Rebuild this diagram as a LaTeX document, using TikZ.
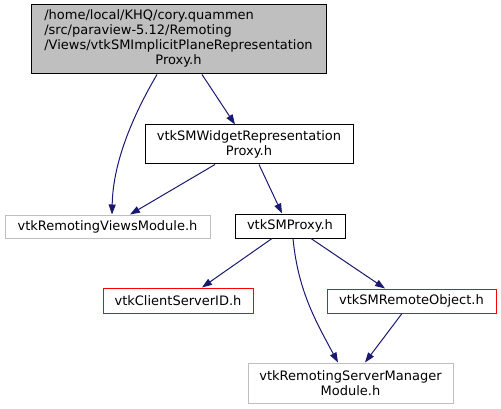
\documentclass[tikz,border=0pt]{standalone}
\usepackage{fontspec}
\setmainfont{DejaVu Sans}
\usetikzlibrary{arrows.meta}

\definecolor{depblue}{HTML}{191970}
\definecolor{extgray}{HTML}{BFBFBF}

\begin{document}
\begin{tikzpicture}[x=1pt,y=-1pt,>={Triangle[length=10pt,width=7pt]},
  hdr/.style={draw,line width=1pt,inner sep=0pt,font=\fontsize{13}{15}\selectfont},
  current/.style={hdr,fill=extgray},
  documented/.style={hdr},
  external/.style={hdr,draw=extgray},
  truncated/.style={hdr,draw=red},
  dep/.style={->,draw=depblue,line width=1pt}]
\useasboundingbox (0,0) rectangle (501,409);
\node[current, minimum width=295pt, minimum height=69pt] (implicit) at (178.5,39.5)
  {\begin{tabular}{@{}l@{}}/home/local/KHQ/cory.quammen\\/src/paraview-5.12/Remoting\\/Views/vtkSMImplicitPlaneRepresentation\\\multicolumn{1}{@{}c@{}}{Proxy.h}\end{tabular}};
\node[documented, minimum width=208pt, minimum height=39pt, align=center] (widget) at (249,144.5)
  {vtkSMWidgetRepresentation\\Proxy.h};
\node[external, minimum width=205pt, minimum height=23pt] (views) at (107.5,226.5) {vtkRemotingViewsModule.h};
\node[documented, minimum width=110pt, minimum height=24pt] (proxy) at (290,226) {vtkSMProxy.h};
\node[truncated, minimum width=150pt, minimum height=25pt] (csid) at (178,300.5) {vtkClientServerID.h};
\node[truncated, minimum width=169pt, minimum height=24pt] (remote) at (411.5,301) {vtkSMRemoteObject.h};
\node[external, minimum width=205pt, minimum height=40pt, align=center] (svrmod) at (350.5,383)
  {vtkRemotingServerManager\\Module.h};
\draw[dep] ([xshift=-21.5pt]implicit.south) .. controls (135,112) and (113,160) .. ([xshift=4.5pt]views.north);
\draw[dep] ([xshift=23.5pt]implicit.south) -- ([xshift=-14pt]widget.north);
\draw[dep] ([xshift=-34pt]widget.south) -- ([xshift=22.5pt]views.north);
\draw[dep] ([xshift=10pt]widget.south) -- ([xshift=-8pt]proxy.north);
\draw[dep] ([xshift=-18pt]proxy.south) -- ([xshift=24pt]csid.north);
\draw[dep] ([xshift=21pt]proxy.south) -- ([xshift=-26.5pt]remote.north);
\draw[dep] ([xshift=3pt]proxy.south) .. controls (298,290) and (315,320) .. ([xshift=-12.5pt]svrmod.north);
\draw[dep] ([xshift=-9.5pt]remote.south) -- ([xshift=14.5pt]svrmod.north);
\end{tikzpicture}
\end{document}
